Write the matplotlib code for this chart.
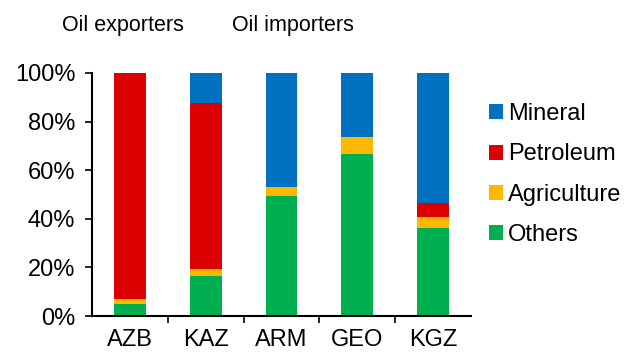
import numpy as np
import matplotlib.pyplot as plt
from matplotlib.ticker import FixedLocator, PercentFormatter

plt.rcParams['font.family'] = ['Liberation Sans', 'DejaVu Sans']

countries = ['AZB', 'KAZ', 'ARM', 'GEO', 'KGZ']
others = [5.0, 16.6, 49.5, 66.8, 36.3]
agriculture = [2.0, 2.6, 3.5, 6.9, 4.3]
petroleum = [93.0, 68.3, 0.0, 0.0, 5.8]
mineral = [0.0, 12.5, 47.0, 26.3, 53.6]

series = [
    ('Others', others, '#00B050'),
    ('Agriculture', agriculture, '#FFB800'),
    ('Petroleum', petroleum, '#DD0000'),
    ('Mineral', mineral, '#0070C0'),
]

fig = plt.figure(figsize=(6.27, 3.54), dpi=100)
ax = fig.add_axes([0.1467, 0.1073, 0.6045, 0.6865])

x = np.arange(len(countries))
bottom = np.zeros(len(countries))
handles = {}
for name, vals, col in series:
    b = ax.bar(x, vals, 0.42, bottom=bottom, color=col, label=name)
    handles[name] = b
    bottom += np.array(vals)

ax.set_xlim(-0.5, len(countries) - 0.5)
ax.set_ylim(0, 100)
ax.yaxis.set_major_locator(FixedLocator([0, 20, 40, 60, 80, 100]))
ax.yaxis.set_major_formatter(PercentFormatter(decimals=0))
ax.set_xticks(x)
ax.set_xticklabels(countries)
ax.xaxis.set_minor_locator(FixedLocator(np.arange(0.5, len(countries) - 0.5, 1)))
ax.tick_params(axis='x', which='major', length=0, pad=9, labelsize=17)
ax.tick_params(axis='x', which='minor', length=5, width=1.2, direction='out')
ax.tick_params(axis='y', length=5, width=1.2, labelsize=17, pad=7)

for s in ['top', 'right']:
    ax.spines[s].set_visible(False)
for s in ['left', 'bottom']:
    ax.spines[s].set_linewidth(1.5)

order = ['Mineral', 'Petroleum', 'Agriculture', 'Others']
leg = ax.legend([handles[n] for n in order], order, loc='center left',
                bbox_to_anchor=(1.047, 0.582), frameon=False, fontsize=17,
                handlelength=0.6, handleheight=0.6, handletextpad=0.22,
                labelspacing=0.78, borderaxespad=0, borderpad=0)

fig.text(62 / 627, 1 - 26 / 354, 'Oil exporters', fontsize=15.5, va='center', ha='left')
fig.text(232 / 627, 1 - 26 / 354, 'Oil importers', fontsize=15.5, va='center', ha='left')

fig.savefig('out.png', dpi=100)
